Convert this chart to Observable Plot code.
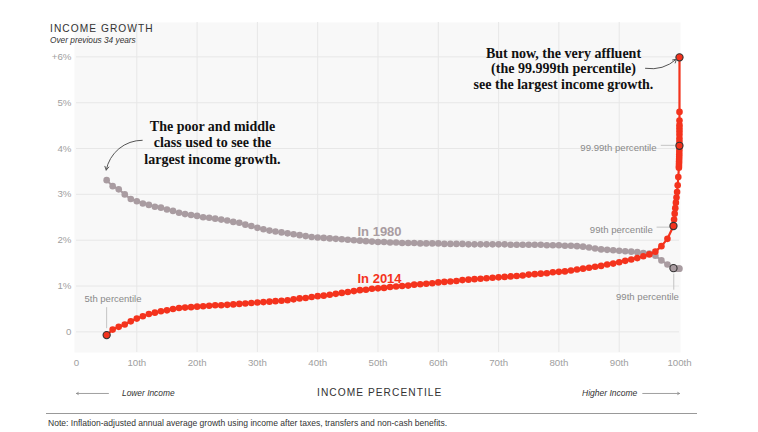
<!DOCTYPE html>
<html><head><meta charset="utf-8">
<script src="https://cdn.jsdelivr.net/npm/d3@7"></script>
<script src="https://cdn.jsdelivr.net/npm/@observablehq/plot@0.6"></script>
<style>
body{margin:0;background:#fff;}
#wrap{position:relative;width:758px;height:432px;overflow:hidden;font-family:"Liberation Sans",Arial,sans-serif;}
#chart{position:absolute;left:0;top:0;}
.abs{position:absolute;white-space:nowrap;line-height:1;}
#title{left:50px;top:24px;font-size:10.2px;letter-spacing:1.05px;color:#333;}
#sub{left:50px;top:36px;font-size:8.3px;font-style:italic;color:#333;}
#xlabel{left:317px;top:388px;font-size:10.2px;letter-spacing:1.05px;color:#333;}
#lower{left:122px;top:389px;font-size:8.4px;font-style:italic;color:#333;}
#higher{left:582px;top:389px;font-size:8.5px;font-style:italic;color:#333;}
#rule{left:46px;top:413px;width:651px;height:0;border-top:1px solid #999;}
#note{left:48px;top:419px;font-size:8.55px;color:#333;}
</style></head>
<body>
<div id="wrap">
  <div id="chart"></div>
  <div class="abs" id="title">INCOME GROWTH</div>
  <div class="abs" id="sub">Over previous 34 years</div>
  <div class="abs" id="lower">Lower Income</div>
  <div class="abs" id="xlabel">INCOME PERCENTILE</div>
  <div class="abs" id="higher">Higher Income</div>
  <div class="abs" id="rule"></div>
  <div class="abs" id="note">Note: Inflation-adjusted annual average growth using income after taxes, transfers and non-cash benefits.</div>
</div>
<script>
// ---- data ----
const pctMain = d3.range(5, 100); // 5th .. 99th percentile
const gray1980 = [
  3.31,3.18,3.11,3.00,2.90,2.85,2.80,2.77,2.73,2.71,
  2.67,2.64,2.60,2.57,2.55,2.53,2.50,2.49,2.47,2.45,
  2.43,2.40,2.38,2.34,2.31,2.27,2.24,2.21,2.19,2.17,
  2.15,2.13,2.11,2.09,2.07,2.06,2.05,2.04,2.03,2.02,
  2.01,2.00,1.99,1.98,1.97,1.96,1.96,1.95,1.95,1.94,
  1.94,1.94,1.93,1.93,1.93,1.93,1.92,1.92,1.92,1.92,
  1.91,1.91,1.91,1.91,1.91,1.91,1.91,1.90,1.90,1.90,
  1.90,1.90,1.90,1.89,1.89,1.89,1.88,1.88,1.87,1.86,
  1.84,1.82,1.80,1.79,1.78,1.77,1.76,1.75,1.74,1.72,
  1.71,1.66,1.56,1.47,1.39
];
const red2014 = [
  -0.07,0.05,0.11,0.16,0.23,0.29,0.34,0.39,0.42,0.45,
  0.47,0.50,0.52,0.53,0.54,0.55,0.56,0.57,0.58,0.58,
  0.59,0.60,0.61,0.62,0.63,0.64,0.65,0.66,0.67,0.68,
  0.69,0.71,0.73,0.74,0.76,0.78,0.79,0.81,0.83,0.85,
  0.87,0.89,0.91,0.92,0.94,0.95,0.96,0.98,0.99,1.00,
  1.01,1.03,1.04,1.05,1.06,1.08,1.09,1.10,1.11,1.13,
  1.14,1.15,1.16,1.17,1.18,1.19,1.20,1.21,1.22,1.23,
  1.25,1.26,1.27,1.28,1.30,1.31,1.32,1.34,1.36,1.38,
  1.40,1.42,1.44,1.47,1.49,1.52,1.55,1.58,1.61,1.65,
  1.69,1.75,1.87,2.03,2.31
];
const pctTopGray = [99.5, 99.9, 99.99];
const gray1980Top = [1.38, 1.38, 1.38];
const pctTopRed = [99.1,99.2,99.3,99.4,99.5,99.6,99.7,99.8,99.9,
  99.91,99.92,99.93,99.94,99.95,99.96,99.97,99.98,99.99,
  99.991,99.992,99.993,99.994,99.995,99.996,99.997,99.998,99.999];
const red2014Top = [2.45,2.58,2.70,2.82,2.93,3.05,3.20,3.38,3.58,
  3.62,3.67,3.72,3.77,3.82,3.87,3.93,3.99,4.06,
  4.15,4.22,4.30,4.37,4.44,4.51,4.61,4.80,5.99];
const highlight1980 = [99];
const highlight2014 = [5, 99, 99.99, 99.999];
const xTicks = [0,10,20,30,40,50,60,70,80,90,100];
const xTickLabels = ["0","10th","20th","30th","40th","50th","60th","70th","80th","90th","100th"];
const xGrid = [10,20,30,40,50,60,70,80,90];
const yTicks = [0,1,2,3,4,5,6];
const yTickLabels = ["0","1%","2%","3%","4%","5%","+6%"];

// ---- tables ----
const rows1980 = pctMain.map((p,i)=>({p, v:gray1980[i]}))
  .concat(pctTopGray.map((p,i)=>({p, v:gray1980Top[i]})));
const rows2014 = pctMain.map((p,i)=>({p, v:red2014[i]}))
  .concat(pctTopRed.map((p,i)=>({p, v:red2014Top[i]})));
const hl1980 = rows1980.filter(d=>highlight1980.includes(d.p));
const hl2014 = rows2014.filter(d=>highlight2014.includes(d.p));

const RED = "#f4331d", GRAY = "#a99ca1", LABEL = "#8a8a8a";
const serif = '"Liberation Serif", "Times New Roman", serif';

const chart = Plot.plot({
  width: 758, height: 432,
  marginLeft: 76, marginRight: 79, marginTop: 22, marginBottom: 80,
  style: {fontFamily: '"Liberation Sans", Arial, sans-serif', fontSize: "9.7px", background: "transparent", overflow: "visible"},
  x: {domain: [0, 100]},
  y: {domain: [-0.45, 6.75]},
  marks: [
    Plot.frame({fill: "#f8f8f8", stroke: null, insetLeft: -2, insetRight: -1}),
    Plot.gridX(xGrid, {stroke: "#e7e7e7", strokeOpacity: 1}),
    Plot.gridY(yTicks, {stroke: "#e7e7e7", strokeOpacity: 1}),
    Plot.axisX(xTicks, {tickSize: 0, tickPadding: 7, tickFormat: d => xTickLabels[xTicks.indexOf(d)], fill: "#a0a0a0", label: null}),
    Plot.axisY(yTicks, {tickSize: 0, tickPadding: 5, tickFormat: d => yTickLabels[yTicks.indexOf(d)], fill: "#a0a0a0", label: null}),
    // leader lines
    Plot.link([{x1:5, y1:0.54, x2:5, y2:0.08}, {x1:99.05, y1:1.27, x2:99.05, y2:0.92},
               {x1:96.9, y1:4.07, x2:99.2, y2:4.07}, {x1:96.2, y1:2.285, x2:98.5, y2:2.285}],
      {x1:"x1", y1:"y1", x2:"x2", y2:"y2", stroke:"#c4c4c4", strokeWidth:1}),
    // series
    Plot.line(rows1980, {x:"p", y:"v", stroke:GRAY, strokeWidth:2}),
    Plot.dot(rows1980, {x:"p", y:"v", r:3.3, fill:GRAY}),
    Plot.line(rows2014, {x:"p", y:"v", stroke:RED, strokeWidth:2.2}),
    Plot.dot(rows2014, {x:"p", y:"v", r:3.3, fill:RED}),
    Plot.dot(hl1980, {x:"p", y:"v", r:3.6, fill:GRAY, stroke:"#333", strokeWidth:1.1}),
    Plot.dot(hl2014, {x:"p", y:"v", r:3.6, fill:RED, stroke:"#333", strokeWidth:1.1}),
    // series labels
    Plot.text(["In 1980"], {x:46.6, y:2.19, text:d=>d, textAnchor:"start", fill:GRAY, fontWeight:"bold", fontSize:13}),
    Plot.text(["In 2014"], {x:46.6, y:1.165, text:d=>d, textAnchor:"start", fill:RED, fontWeight:"bold", fontSize:13}),
    // percentile labels
    Plot.text(["5th percentile"], {x:6.05, y:0.72, text:d=>d, fill:LABEL, fontSize:9.5}),
    Plot.text(["99.99th percentile"], {x:96.2, y:4.02, text:d=>d, textAnchor:"end", fill:LABEL, fontSize:9.6}),
    Plot.text(["99th percentile"], {x:95.57, y:2.23, text:d=>d, textAnchor:"end", fill:LABEL, fontSize:9.6}),
    Plot.text(["99th percentile"], {x:99.9, y:0.77, text:d=>d, textAnchor:"end", fill:LABEL, fontSize:9.6}),
    // annotations
    Plot.text(["The poor and middle\nclass used to see the\nlargest income growth."],
      {x:22.55, y:4.14, text:d=>d, fontFamily:serif, fontWeight:"bold", fontSize:14, lineHeight:1.18, fill:"#111"}),
    Plot.text(["But now, the very affluent\n(the 99.999th percentile)\nsee the largest income growth."],
      {x:80.76, y:5.75, text:d=>d, fontFamily:serif, fontWeight:"bold", fontSize:14, lineHeight:1.12, fill:"#111"}),
    Plot.arrow([{x1:10.9, y1:4.18, x2:4.93, y2:3.53}], {x1:"x1", y1:"y1", x2:"x2", y2:"y2", bend:-40, stroke:"#555", strokeWidth:1, headLength:6}),
    Plot.arrow([{x1:94.36, y1:5.75, x2:99.5, y2:5.95}], {x1:"x1", y1:"y1", x2:"x2", y2:"y2", bend:-25, stroke:"#555", strokeWidth:1, headLength:6}),
    // bottom direction arrows
    Plot.arrow([{x1:5.3, y1:-1.344, x2:0, y2:-1.344}, {x1:93.9, y1:-1.344, x2:100, y2:-1.344}],
      {x1:"x1", y1:"y1", x2:"x2", y2:"y2", stroke:"#888", strokeWidth:0.8, headLength:4})
  ]
});
document.getElementById("chart").appendChild(chart);
</script>
</body></html>
